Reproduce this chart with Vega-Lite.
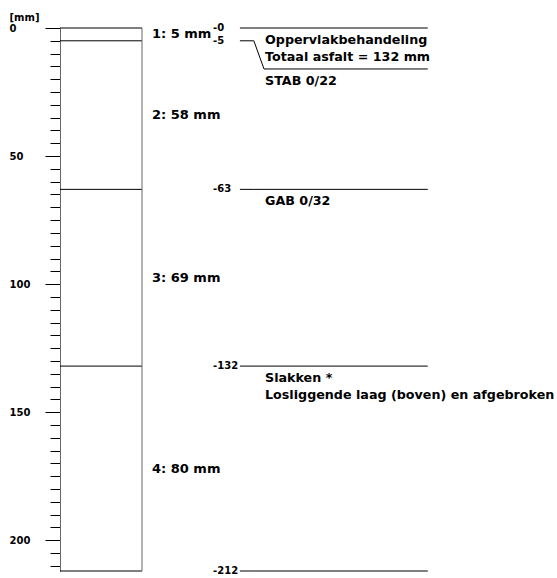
{
  "$schema": "https://vega.github.io/schema/vega-lite/v6.json",
  "autosize": "none",
  "width": 497,
  "height": 543,
  "padding": {"left": 60, "top": 28, "right": 0, "bottom": 7},
  "background": "white",
  "config": {"view": {"stroke": null}, "font": "DejaVu Sans"},
  "datasets": {
    "layers": [
      {"layer": 1, "top": 0, "bottom": 5, "label": "1: 5 mm"},
      {"layer": 2, "top": 5, "bottom": 63, "label": "2: 58 mm"},
      {"layer": 3, "top": 63, "bottom": 132, "label": "3: 69 mm"},
      {"layer": 4, "top": 132, "bottom": 212, "label": "4: 80 mm"}
    ],
    "bounds": [
      {"depth": 0, "tag": "-0", "anchor": 0, "desc": ["Oppervlakbehandeling", "Totaal asfalt = 132 mm"]},
      {"depth": 5, "tag": "-5", "anchor": 16, "desc": ["STAB 0/22"]},
      {"depth": 63, "tag": "-63", "anchor": 63, "desc": ["GAB 0/32"]},
      {"depth": 132, "tag": "-132", "anchor": 132, "desc": ["Slakken *", "Losliggende laag (boven) en afgebroken"]},
      {"depth": 212, "tag": "-212", "anchor": 212, "desc": [""]}
    ]
  },
  "layer": [
    {
      "data": {"name": "bounds"},
      "mark": {"type": "rule", "color": "black", "strokeWidth": 1},
      "encoding": {
        "x": {"datum": 0, "type": "quantitative", "scale": {"domain": [0, 100], "nice": false, "zero": false}, "axis": null},
        "x2": {"datum": 16.5},
        "y": {
          "field": "depth", "type": "quantitative",
          "scale": {"domain": [0, 212], "reverse": true, "nice": false, "zero": false},
          "axis": {
            "title": "[mm]", "titleAngle": 0, "titleX": -51, "titleY": -11, "titleAlign": "left", "titleBaseline": "middle",
            "titleFontSize": 10, "titleFontWeight": "bold", "titleColor": "black",
            "values": [0,5,10,15,20,25,30,35,40,45,50,55,60,65,70,75,80,85,90,95,100,105,110,115,120,125,130,135,140,145,150,155,160,165,170,175,180,185,190,195,200,205,210],
            "tickCount": 43,
            "grid": false,
            "tickColor": "black",
            "tickSize": {"condition": {"test": "datum.value % 50 === 0", "value": 15}, "value": 10},
            "labelExpr": "datum.value % 50 === 0 ? datum.label : ''",
            "labelAlign": "left", "labelBaseline": "middle", "labelPadding": 36,
            "labelFontSize": 10, "labelFontWeight": "bold", "labelColor": "black",
            "domainColor": "#666", "labelFlush": false, "labelOverlap": false
          }
        }
      }
    },
    {
      "data": {"name": "bounds"},
      "transform": [{"filter": "datum.depth === 0"}],
      "mark": {"type": "rule", "color": "#666", "strokeWidth": 1},
      "encoding": {
        "x": {"datum": 16.5, "type": "quantitative", "axis": null},
        "y": {"datum": 0, "type": "quantitative"},
        "y2": {"datum": 212}
      }
    },
    {
      "data": {"name": "layers"},
      "transform": [{"calculate": "(datum.top + datum.bottom) / 2", "as": "mid"}],
      "mark": {"type": "text", "align": "left", "baseline": "middle", "fontSize": 13, "fontWeight": "bold", "color": "black"},
      "encoding": {
        "x": {"datum": 18.5, "type": "quantitative", "axis": null},
        "y": {"field": "mid", "type": "quantitative"},
        "text": {"field": "label"}
      }
    },
    {
      "data": {"name": "bounds"},
      "mark": {"type": "text", "align": "left", "baseline": "middle", "fontSize": 10, "fontWeight": "bold", "color": "black"},
      "encoding": {
        "x": {"datum": 30.8, "type": "quantitative", "axis": null},
        "y": {"field": "depth", "type": "quantitative"},
        "text": {"field": "tag"}
      }
    },
    {
      "data": {"name": "bounds"},
      "mark": {"type": "rule", "color": "black", "strokeWidth": 1},
      "encoding": {
        "x": {"datum": 36.2, "type": "quantitative", "axis": null},
        "x2": {"datum": 39.0},
        "y": {"field": "depth", "type": "quantitative"}
      }
    },
    {
      "data": {"name": "bounds"},
      "mark": {"type": "rule", "color": "black", "strokeWidth": 1},
      "encoding": {
        "x": {"datum": 39.0, "type": "quantitative", "axis": null},
        "x2": {"datum": 41.05},
        "y": {"field": "depth", "type": "quantitative"},
        "y2": {"field": "anchor"}
      }
    },
    {
      "data": {"name": "bounds"},
      "mark": {"type": "rule", "color": "black", "strokeWidth": 1},
      "encoding": {
        "x": {"datum": 41.05, "type": "quantitative", "axis": null},
        "x2": {"datum": 74.0},
        "y": {"field": "anchor", "type": "quantitative"}
      }
    },
    {
      "data": {"name": "bounds"},
      "mark": {"type": "text", "align": "left", "baseline": "top", "dy": 6, "lineHeight": 17, "fontSize": 12.7, "fontWeight": "bold", "color": "black"},
      "encoding": {
        "x": {"datum": 41.25, "type": "quantitative", "axis": null},
        "y": {"field": "anchor", "type": "quantitative"},
        "text": {"field": "desc"}
      }
    }
  ]
}
